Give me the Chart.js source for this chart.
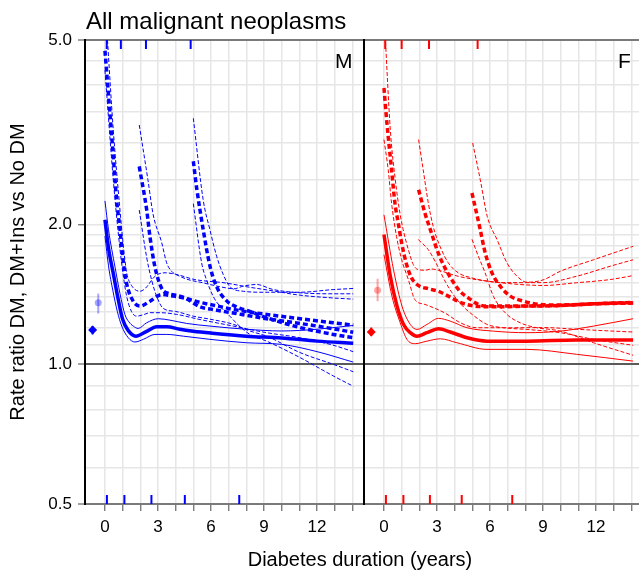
<!DOCTYPE html>
<html>
<head>
<meta charset="utf-8">
<script src="https://cdn.jsdelivr.net/npm/chart.js@4.4.1/dist/chart.umd.min.js"></script>
<style>
  html, body { margin: 0; padding: 0; background: #fff; overflow: hidden; width: 639px; height: 571px; }
  body { position: relative; font-family: "Liberation Sans", Arial, Helvetica, sans-serif; }
  #chart-m { position: absolute; left: 0; top: 0; z-index: 2; }
  #chart-f { position: absolute; left: 364px; top: 0; z-index: 1; }
  .lab { position: absolute; line-height: 1; color: #000; white-space: nowrap; z-index: 3; }
</style>
</head>
<body>
<canvas id="chart-m" width="366" height="571"></canvas>
<canvas id="chart-f" width="281" height="571"></canvas>
<div class="lab" style="left:86px; top:9px; font-size:24px;">All malignant neoplasms</div>
<div class="lab" style="left:335px; top:50px; font-size:21px;">M</div>
<div class="lab" style="left:618px; top:50px; font-size:21px;">F</div>
<div class="lab" style="left:360px; top:549px; font-size:20px; transform:translateX(-50%);">Diabetes duration (years)</div>
<script>
// Axis setup
const X_MIN = -1.13, X_MAX = 14.66;
const X_TICKS = [0, 1, 2, 3, 4, 5, 6, 7, 8, 9, 10, 11, 12, 13, 14];
const Y_GRID = [0.5, 0.6, 0.7, 0.8, 0.9, 1, 1.1, 1.2, 1.3, 1.4, 1.5, 1.6, 1.7, 1.8, 1.9, 2, 2.5, 3, 3.5, 4, 4.5, 5];
const Y_LABELS = [0.5, 1, 2, 5];

// Men: DM vs no DM (estimate, upper, lower)
const M_DM = [[0,2.05],[0.2,1.78],[0.47,1.57],[0.75,1.38],[1.0,1.25],[1.3,1.185],[1.75,1.15],[2.36,1.178],[2.93,1.205],[3.5,1.205],[4.24,1.19],[5.0,1.179],[6.0,1.168],[8.0,1.15],[10.0,1.14],[12.0,1.122],[14.05,1.11]];
const M_DM_HI = [[0,2.25],[0.2,1.95],[0.57,1.62],[0.85,1.42],[1.13,1.28],[1.35,1.235],[1.6,1.209],[1.88,1.195],[2.36,1.229],[3.02,1.254],[3.68,1.245],[4.62,1.225],[5.94,1.209],[8.0,1.19],[10.0,1.18],[12.0,1.19],[14.05,1.213]];
const M_DM_LO = [[0,1.89],[0.2,1.63],[0.45,1.44],[0.7,1.30],[0.95,1.209],[1.32,1.141],[1.7,1.117],[2.17,1.132],[2.83,1.16],[3.5,1.16],[4.43,1.15],[5.94,1.132],[8.0,1.113],[10.0,1.104],[12.0,1.065],[14.05,1.011]];
// Men: DM+Ins, insulin started at three durations
const M_INS_A = [[0,4.74],[0.25,3.6],[0.47,2.81],[0.66,2.26],[0.85,1.95],[1.04,1.66],[1.23,1.49],[1.6,1.368],[1.98,1.335],[2.55,1.368],[3.21,1.414],[3.87,1.403],[4.62,1.385],[5.38,1.36],[6.6,1.33],[7.26,1.313],[9.15,1.281],[11.04,1.254],[12.92,1.229],[14.05,1.215]];
const M_INS_A_HI = [[0.1,5.3],[0.47,3.2],[0.85,2.15],[1.04,1.80],[1.23,1.575],[1.5,1.48],[1.98,1.437],[2.3,1.46],[2.83,1.548],[3.4,1.575],[3.96,1.565],[5.09,1.523],[6.79,1.498],[8.0,1.47],[9.5,1.44],[11.0,1.41],[12.9,1.39],[14.05,1.382]];
const M_INS_A_LO = [[0,4.3],[0.47,2.5],[0.85,1.77],[1.04,1.55],[1.23,1.40],[1.5,1.30],[1.79,1.27],[2.2,1.28],[2.55,1.292],[3.11,1.292],[4.06,1.281],[5.38,1.249],[7.26,1.209],[9.15,1.17],[11.04,1.141],[12.9,1.10],[14.05,1.065]];
const M_INS_B = [[1.94,2.67],[2.36,2.154],[2.55,1.88],[2.83,1.62],[3.2,1.46],[3.6,1.42],[4.0,1.41],[4.53,1.39],[5.38,1.33],[6.0,1.315],[7.26,1.29],[9.15,1.254],[11.04,1.225],[12.92,1.193],[14.05,1.172]];
const M_INS_B_HI = [[1.94,3.28],[2.43,2.5],[2.73,2.1],[3.21,1.83],[3.49,1.655],[3.77,1.587],[4.2,1.55],[4.7,1.523],[5.5,1.50],[6.5,1.47],[7.3,1.455],[7.83,1.474],[8.58,1.486],[9.5,1.45],[11.04,1.426],[12.92,1.419],[14.05,1.419]];
const M_INS_B_LO = [[1.94,2.15],[2.36,1.70],[2.64,1.52],[2.93,1.40],[3.3,1.32],[4.0,1.30],[5.0,1.27],[6.0,1.25],[7.26,1.22],[8.2,1.18],[9.15,1.15],[11.04,1.06],[12.92,1.0],[14.05,0.964]];
const M_INS_C = [[5.0,2.74],[5.19,2.4],[5.56,1.95],[5.94,1.63],[6.32,1.47],[6.89,1.37],[7.45,1.33],[8.2,1.30],[9.15,1.26],[11.04,1.20],[12.92,1.16],[14.05,1.141]];
const M_INS_C_HI = [[5.0,3.39],[5.56,2.26],[5.94,1.95],[6.32,1.71],[6.7,1.56],[7.07,1.47],[7.83,1.437],[9.0,1.43],[11.0,1.43],[12.92,1.449],[14.05,1.457]];
const M_INS_C_LO = [[5.0,2.22],[5.47,1.655],[5.75,1.52],[6.13,1.40],[6.5,1.335],[7.07,1.27],[7.5,1.22],[8.2,1.16],[9.15,1.122],[11.04,1.034],[12.92,0.944],[14.05,0.897]];

// Women
const F_DM = [[0,1.904],[0.36,1.548],[0.74,1.335],[1.11,1.219],[1.49,1.17],[1.87,1.15],[2.43,1.17],[3.09,1.193],[3.75,1.174],[4.7,1.141],[5.83,1.122],[8.09,1.122],[10.9,1.128],[14.1,1.128]];
const F_DM_HI = [[0,2.1],[0.54,1.6],[1.02,1.335],[1.49,1.219],[1.87,1.189],[2.43,1.219],[3.09,1.256],[3.75,1.239],[4.7,1.199],[6.2,1.179],[8.09,1.17],[9.98,1.179],[11.86,1.209],[14.1,1.254]];
const F_DM_LO = [[0,1.724],[0.45,1.403],[0.92,1.229],[1.3,1.132],[1.77,1.108],[2.43,1.122],[3.19,1.135],[4.13,1.113],[5.83,1.077],[8.09,1.077],[10.9,1.051],[14.1,1.016]];
const F_INS_A = [[0,3.94],[0.17,3.3],[0.43,2.63],[0.62,2.226],[0.81,2.016],[1.0,1.827],[1.28,1.641],[1.56,1.536],[1.94,1.479],[2.51,1.455],[3.07,1.437],[3.64,1.403],[4.39,1.357],[5.15,1.335],[6.58,1.33],[8.09,1.335],[9.98,1.339],[11.86,1.351],[14.1,1.357]];
const F_INS_A_HI = [[0.07,5.1],[0.36,3.2],[0.64,2.5],[0.92,2.1],[1.09,1.95],[1.38,1.766],[1.66,1.64],[1.94,1.6],[2.32,1.595],[2.69,1.605],[3.2,1.59],[4.2,1.548],[5.9,1.51],[7.71,1.486],[9.03,1.479],[10.9,1.499],[12.8,1.523],[14.1,1.553]];
const F_INS_A_LO = [[0,3.05],[0.24,2.626],[0.43,2.226],[0.71,1.887],[1.0,1.682],[1.38,1.523],[1.75,1.379],[2.32,1.346],[3.45,1.29],[4.32,1.229],[5.26,1.199],[7.15,1.199],[9.03,1.20],[10.9,1.19],[12.8,1.18],[14.1,1.174]];
const F_INS_B = [[1.96,2.378],[2.32,2.117],[2.69,1.918],[3.07,1.738],[3.45,1.614],[3.83,1.523],[4.3,1.437],[4.77,1.391],[5.34,1.346],[5.9,1.335],[8.09,1.335],[9.98,1.339],[11.86,1.35],[14.1,1.36]];
const F_INS_B_HI = [[1.96,3.05],[2.22,2.626],[2.51,2.226],[2.79,1.98],[3.17,1.796],[3.64,1.655],[4.2,1.575],[4.96,1.536],[5.9,1.51],[6.77,1.5],[8.0,1.5],[9.03,1.5],[10.9,1.548],[12.8,1.627],[14.1,1.68]];
const F_INS_B_LO = [[1.94,1.857],[2.51,1.766],[3.04,1.627],[3.5,1.50],[4.0,1.40],[4.5,1.33],[5.0,1.28],[5.83,1.219],[6.77,1.199],[8.09,1.189],[9.98,1.17],[11.86,1.132],[14.1,1.099]];
const F_INS_C = [[4.98,2.34],[5.24,2.117],[5.45,1.95],[5.73,1.738],[6.11,1.575],[6.58,1.474],[7.15,1.403],[7.9,1.368],[8.85,1.346],[9.98,1.342],[11.86,1.35],[14.1,1.355]];
const F_INS_C_HI = [[5.02,3.0],[5.45,2.5],[5.85,2.08],[6.4,1.857],[6.96,1.655],[7.53,1.548],[8.09,1.503],[9.0,1.52],[9.98,1.587],[11.86,1.68],[14.1,1.796]];
const F_INS_C_LO = [[4.98,1.86],[5.34,1.71],[5.71,1.58],[6.2,1.40],[6.96,1.281],[7.71,1.229],[8.47,1.203],[9.98,1.179],[11.86,1.113],[14.1,1.046]];

// Overall rate ratios: [x, estimate, lower, upper]
const M_DM_PT = [-0.7, 1.185, 1.16, 1.21];
const M_INS_PT = [-0.38, 1.357, 1.287, 1.42];
const F_DM_PT = [-0.72, 1.174, 1.15, 1.20];
const F_INS_PT = [-0.36, 1.445, 1.368, 1.529];

// Rug marks (durations)
const M_RUG_TOP = [0.1, 0.9, 2.32, 4.85];
const M_RUG_BOTTOM = [0.11, 1.1, 2.63, 4.52, 7.6];
const F_RUG_TOP = [0.07, 1.0, 2.55, 5.3];
const F_RUG_BOTTOM = [0.11, 1.1, 2.6, 4.4, 7.26];

Chart.defaults.font.family = '"Liberation Sans", Arial, Helvetica, sans-serif';

function curve(pts, color, width, dash) {
  return {
    data: pts.map(([x, y]) => ({ x, y })),
    borderColor: color,
    borderWidth: width,
    borderDash: dash || [],
    pointRadius: 0,
    fill: false,
    cubicInterpolationMode: 'monotone',
    clip: 0
  };
}

function pointWithBar(pt, color, style, r) {
  return [
    { data: [{ x: pt[0], y: pt[2] }, { x: pt[0], y: pt[3] }], borderColor: color, borderWidth: 2, pointRadius: 0 },
    { data: [{ x: pt[0], y: pt[1] }], showLine: false, pointStyle: style, pointRadius: r,
      backgroundColor: color, borderColor: color, borderWidth: 0 }
  ];
}

function panelSets(c, light, dm, dmHi, dmLo, ins, dmPt, insPt) {
  const thinDash = [4, 2], thickDash = [5, 3];
  const sets = [];
  ins.forEach(([est, hi, lo]) => {
    sets.push(curve(hi, c, 1, thinDash));
    sets.push(curve(lo, c, 1, thinDash));
  });
  sets.push(curve(dmHi, c, 1));
  sets.push(curve(dmLo, c, 1));
  ins.forEach(([est]) => sets.push(curve(est, c, 3.5, thickDash)));
  sets.push(curve(dm, c, 3.5));
  sets.push(...pointWithBar(dmPt, c, 'rectRot', 4.5));
  sets.push(...pointWithBar(insPt, light, 'circle', 3.5));
  return sets;
}

const rugPlugin = {
  id: 'rug',
  afterDatasetsDraw(chart, args, opts) {
    const { ctx, chartArea: a, scales: { x } } = chart;
    ctx.save();
    ctx.strokeStyle = opts.color;
    ctx.lineWidth = 2;
    ctx.beginPath();
    (opts.top || []).forEach(v => {
      const px = x.getPixelForValue(v);
      ctx.moveTo(px, a.top); ctx.lineTo(px, a.top + 9);
    });
    (opts.bottom || []).forEach(v => {
      const px = x.getPixelForValue(v);
      ctx.moveTo(px, a.bottom); ctx.lineTo(px, a.bottom - 9);
    });
    ctx.stroke();
    ctx.restore();
  }
};

const framePlugin = {
  id: 'frame',
  afterDraw(chart, args, opts) {
    if (!opts.sides) return;
    const { ctx, chartArea: a } = chart;
    ctx.save();
    ctx.strokeStyle = '#000';
    ctx.lineWidth = 2;
    ctx.beginPath();
    opts.sides.forEach(s => {
      const px = s === 'left' ? a.left : a.right;
      ctx.moveTo(px, a.top - 1); ctx.lineTo(px, a.bottom + 1);
    });
    ctx.stroke();
    ctx.restore();
  }
};

function gridColor(v) {
  if (v === 1) return '#5a5a5a';
  if (v === 0.5 || v === 5) return '#7a7a7a';
  return '#e6e6e6';
}

function makePanel(id, showY, datasets, rug, sides) {
  const tickFont = { size: 17 };
  return new Chart(document.getElementById(id), {
    type: 'line',
    data: { datasets },
    plugins: [rugPlugin, framePlugin],
    options: {
      responsive: false,
      animation: false,
      layout: { autoPadding: false, padding: { top: 40, right: 2, left: 0, bottom: 0 } },
      plugins: { legend: { display: false }, tooltip: { enabled: false }, rug, frame: { sides } },
      scales: {
        x: {
          type: 'linear', min: X_MIN, max: X_MAX,
          afterBuildTicks: s => { s.ticks = X_TICKS.map(v => ({ value: v })); },
          afterFit: s => { s.height = 67; },
          ticks: { callback: v => (v % 3 === 0 ? String(v) : ''), font: tickFont, color: '#000',
                   padding: 6, autoSkip: false, maxRotation: 0, minRotation: 0 },
          grid: { color: '#e6e6e6', lineWidth: 1.5, tickLength: 7, tickColor: '#666', tickWidth: 1.2 },
          border: { color: '#7a7a7a', width: 2 }
        },
        y: {
          type: 'logarithmic', min: 0.5, max: 5,
          afterBuildTicks: s => { s.ticks = Y_GRID.map(v => ({ value: v })); },
          afterFit: s => { s.width = showY ? 85 : 0; },
          ticks: { display: showY, callback: v => (Y_LABELS.includes(v) ? v.toFixed(1) : ''),
                   font: tickFont, color: '#000', padding: 6, autoSkip: false },
          grid: {
            color: c => gridColor(c.tick ? c.tick.value : 0),
            lineWidth: c => (c.tick && (c.tick.value === 1 || c.tick.value === 0.5 || c.tick.value === 5) ? 2 : 1.5),
            drawTicks: showY, tickLength: 7, tickWidth: 1.2,
            tickColor: c => (c.tick && Y_LABELS.includes(c.tick.value) ? '#666' : 'rgba(0,0,0,0)')
          },
          border: { display: false },
          title: { display: showY, text: 'Rate ratio DM, DM+Ins vs No DM', font: { size: 20 },
                   color: '#000', padding: { top: 6, bottom: 0 } }
        }
      }
    }
  });
}

const BLUE = '#0000ff', LIGHT_BLUE = 'rgba(0,0,255,0.35)';
const RED = '#ff0000', LIGHT_RED = 'rgba(255,0,0,0.35)';

makePanel('chart-m', true,
  panelSets(BLUE, LIGHT_BLUE, M_DM, M_DM_HI, M_DM_LO,
    [[M_INS_A, M_INS_A_HI, M_INS_A_LO], [M_INS_B, M_INS_B_HI, M_INS_B_LO], [M_INS_C, M_INS_C_HI, M_INS_C_LO]],
    M_DM_PT, M_INS_PT),
  { color: BLUE, top: M_RUG_TOP, bottom: M_RUG_BOTTOM }, ['left', 'right']);

makePanel('chart-f', false,
  panelSets(RED, LIGHT_RED, F_DM, F_DM_HI, F_DM_LO,
    [[F_INS_A, F_INS_A_HI, F_INS_A_LO], [F_INS_B, F_INS_B_HI, F_INS_B_LO], [F_INS_C, F_INS_C_HI, F_INS_C_LO]],
    F_DM_PT, F_INS_PT),
  { color: RED, top: F_RUG_TOP, bottom: F_RUG_BOTTOM }, []);
</script>
</body>
</html>
